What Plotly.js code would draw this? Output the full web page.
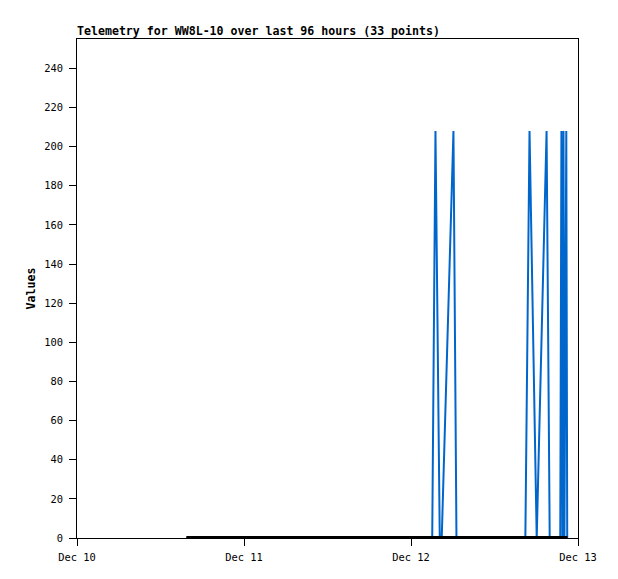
<!DOCTYPE html>
<html>
<head>
<meta charset="utf-8">
<script src="https://cdn.plot.ly/plotly-3.0.1.min.js"></script>
<style>html,body{margin:0;padding:0;background:#fff;}#chart{width:618px;height:579px;}</style>
</head>
<body>
<div id="chart"></div>
<script>
// Telemetry series (blue line): timestamps and values
const telemetryTimes = [
  '2023-12-10 15:43',
  '2023-12-12 03:03', '2023-12-12 03:31', '2023-12-12 04:08',
  '2023-12-12 04:25', '2023-12-12 06:06', '2023-12-12 06:32',
  '2023-12-12 16:26', '2023-12-12 17:02', '2023-12-12 18:04',
  '2023-12-12 19:29', '2023-12-12 19:56',
  '2023-12-12 21:27', '2023-12-12 21:37', '2023-12-12 21:46',
  '2023-12-12 21:55', '2023-12-12 22:03', '2023-12-12 22:19',
  '2023-12-12 22:27'
];
const telemetryValues = [
  0,
  0, 208, 0,
  0, 208, 0,
  0, 208, 0,
  208, 0,
  0, 208, 0,
  208, 0, 208,
  0
];
// Baseline series (black line)
const baselineTimes = ['2023-12-10 15:43', '2023-12-12 22:29'];
const baselineValues = [0, 0];

const titleText = 'Telemetry for WW8L-10 over last 96 hours (33 points)';
const yTitle = 'Values';
const xRange = ['2023-12-10 00:00', '2023-12-13 00:00'];
const yRange = [0, 255];

const mono = 'DejaVu Sans Mono, Liberation Mono, monospace';

const traces = [
  {
    type: 'scatter', mode: 'lines',
    x: telemetryTimes, y: telemetryValues,
    line: {color: '#0066CC', width: 2},
    hoverinfo: 'skip', showlegend: false
  },
  {
    type: 'scatter', mode: 'lines',
    x: baselineTimes, y: baselineValues,
    line: {color: '#000000', width: 4},
    hoverinfo: 'skip', showlegend: false
  }
];

const layout = {
  width: 618, height: 579,
  margin: {l: 77, r: 40, t: 39, b: 41, pad: 0},
  paper_bgcolor: '#ffffff', plot_bgcolor: '#ffffff',
  showlegend: false,
  title: {
    text: titleText,
    font: {family: mono, size: 11.6, color: '#000', weight: 'bold'},
    xref: 'paper', x: 0, xanchor: 'left',
    yref: 'container', y: 1 - 31/579, yanchor: 'middle'
  },
  xaxis: {
    type: 'date', range: xRange,
    tick0: '2023-12-10', dtick: 86400000, tickformat: '%b %d',
    showgrid: false, zeroline: false,
    showline: true, linecolor: '#000', linewidth: 1, mirror: true,
    ticks: 'outside', ticklen: 7, tickcolor: '#000', tickwidth: 1,
    tickfont: {family: mono, size: 10.4, color: '#000'},
    ticklabelstandoff: 3
  },
  yaxis: {
    range: yRange, tick0: 0, dtick: 20,
    showgrid: false, zeroline: false,
    showline: true, linecolor: '#000', linewidth: 1, mirror: true,
    ticks: 'outside', ticklen: 7, tickcolor: '#000', tickwidth: 1,
    tickfont: {family: mono, size: 10.4, color: '#000'},
    ticklabelstandoff: 4,
    title: {text: yTitle, font: {family: mono, size: 11.6, color: '#000', weight: 'bold'}, standoff: 6}
  }
};

Plotly.newPlot('chart', traces, layout, {displayModeBar: false, staticPlot: true});
</script>
</body>
</html>
